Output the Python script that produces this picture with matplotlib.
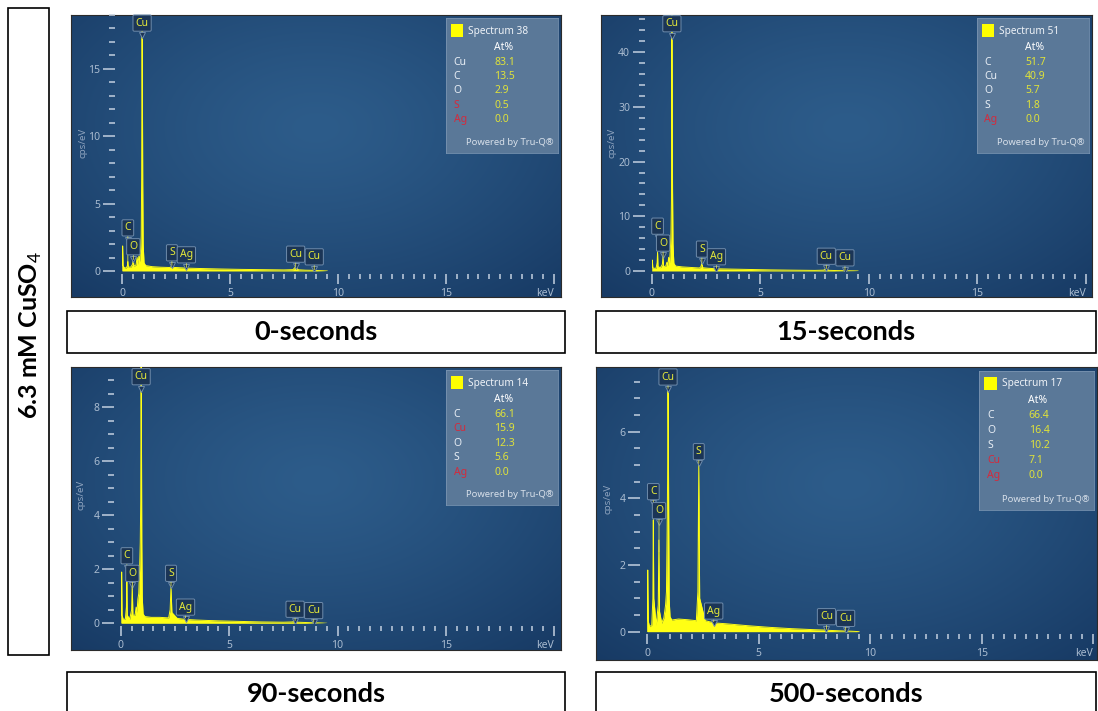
import matplotlib
matplotlib.use('Agg')

import matplotlib.pyplot as plt
import matplotlib.transforms as mtransforms
import numpy as np
from matplotlib.patches import Rectangle
from matplotlib.ticker import MultipleLocator

plt.rcParams['font.family'] = ['Noto Sans', 'DejaVu Sans']
plt.rcParams['mathtext.fontset'] = 'custom'
plt.rcParams['mathtext.rm'] = 'Lato'
plt.rcParams['mathtext.bf'] = 'Lato:bold'

# ---------------------------------------------------------------------------
# values
# ---------------------------------------------------------------------------
row_label = '6.3 mM CuSO$_4$'
titles = ['0-seconds', '15-seconds', '90-seconds', '500-seconds']
spec_names = ['Spectrum 38', 'Spectrum 51', 'Spectrum 14', 'Spectrum 17']

# energy grid (keV) the counts were read at
kev = [0.00, 0.02, 0.03, 0.05, 0.10, 0.20, 0.25, 0.27, 0.29, 0.40,
       0.49, 0.52, 0.55, 0.65, 0.70, 0.74, 0.78, 0.82, 0.86, 0.89,
       0.91, 0.93, 0.945, 0.96, 0.98, 1.02, 1.10, 1.40, 1.80, 2.20,
       2.27, 2.31, 2.35, 2.60, 2.90, 2.98, 3.06, 3.50, 4.50, 5.50,
       6.50, 7.50, 7.92, 8.04, 8.16, 8.50, 8.85, 8.90, 8.95, 9.30, 9.50]

# counts (cps/eV)
counts_38 = [0.0, 1.1, 1.86, 0.4, 0.25, 0.22, 0.4, 0.7, 0.3, 0.28,
             0.5, 0.95, 0.35, 0.45, 1.0, 0.5, 1.1, 0.7, 1.6, 2.6,
             7.0, 20.5, 13.6, 6.5, 2.0, 0.6, 0.4, 0.32, 0.28, 0.26,
             0.3, 0.42, 0.27, 0.25, 0.22, 0.26, 0.21, 0.19, 0.15, 0.12,
             0.1, 0.08, 0.1, 0.32, 0.09, 0.06, 0.05, 0.08, 0.04, 0.02, 0.0]
counts_51 = [0.0, 1.2, 2.0, 0.6, 0.5, 0.5, 1.5, 3.4, 0.8, 0.6,
             1.2, 2.6, 0.8, 0.9, 1.6, 1.0, 2.5, 1.5, 4.0, 7.0,
             13.0, 49.0, 35.0, 15.0, 5.0, 1.4, 0.9, 0.75, 0.65, 0.55,
             0.8, 1.55, 0.6, 0.5, 0.42, 0.5, 0.4, 0.36, 0.28, 0.2,
             0.15, 0.11, 0.15, 0.45, 0.12, 0.08, 0.06, 0.1, 0.05, 0.03, 0.0]
counts_14 = [0.0, 1.0, 1.9, 0.3, 0.15, 0.15, 0.6, 1.7, 0.3, 0.15,
             0.5, 1.42, 0.3, 0.3, 0.6, 0.4, 0.9, 1.1, 2.0, 3.0,
             4.5, 10.0, 7.0, 3.0, 1.0, 0.35, 0.25, 0.22, 0.22, 0.2,
             0.5, 1.38, 0.4, 0.18, 0.15, 0.2, 0.14, 0.12, 0.09, 0.07,
             0.05, 0.04, 0.05, 0.1, 0.04, 0.03, 0.02, 0.04, 0.02, 0.01, 0.0]
counts_17 = [0.0, 1.85, 1.2, 0.3, 0.15, 0.2, 1.0, 3.35, 1.0, 0.2,
             0.8, 2.75, 0.6, 0.25, 0.35, 0.4, 0.6, 0.8, 1.2, 3.0,
             4.5, 7.3, 6.0, 3.5, 1.0, 0.45, 0.35, 0.38, 0.36, 0.33,
             1.2, 5.05, 1.0, 0.33, 0.28, 0.3, 0.26, 0.24, 0.18, 0.13,
             0.09, 0.06, 0.05, 0.07, 0.04, 0.03, 0.02, 0.03, 0.02, 0.01, 0.0]

# quantification tables (At%), elements flagged red by the software
elems_38 = ['Cu', 'C', 'O', 'S', 'Ag']
atpct_38 = [83.1, 13.5, 2.9, 0.5, 0.0]
red_38 = ['S', 'Ag']
elems_51 = ['C', 'Cu', 'O', 'S', 'Ag']
atpct_51 = [51.7, 40.9, 5.7, 1.8, 0.0]
red_51 = ['Ag']
elems_14 = ['C', 'Cu', 'O', 'S', 'Ag']
atpct_14 = [66.1, 15.9, 12.3, 5.6, 0.0]
red_14 = ['Cu', 'Ag']
elems_17 = ['C', 'O', 'S', 'Cu', 'Ag']
atpct_17 = [66.4, 16.4, 10.2, 7.1, 0.0]
red_17 = ['Cu', 'Ag']

# peak tags: element and line energy (keV), same set on every spectrum
tag_elems = ['Cu', 'C', 'O', 'S', 'Ag', 'Cu', 'Cu']
tag_kev = [0.93, 0.27, 0.525, 2.31, 2.98, 8.04, 8.90]
# heights at which the tags sit (cps/eV)
tag_h_38 = [18.4, 3.2, 1.8, 1.35, 1.2, 1.25, 1.05]
tag_h_51 = [45.2, 8.2, 5.1, 4.0, 2.6, 2.7, 2.4]
tag_h_14 = [9.13, 2.5, 1.85, 1.85, 0.6, 0.52, 0.47]
tag_h_17 = [7.64, 4.2, 3.63, 5.4, 0.62, 0.45, 0.40]

# y axis range and tick steps for each spectrum
y_top = [19.0, 46.8, 9.49, 7.94]
y_step = [5, 10, 2, 2]
y_minor = [1, 2, 0.5, 0.5]

# ---------------------------------------------------------------------------
# layout (pixels, left, top, right, bottom)
# ---------------------------------------------------------------------------
W, H = 1098, 711
panel_px = [(71, 15, 561, 297), (601, 15, 1092, 297),
            (71, 367, 561, 650), (596, 367, 1097, 660)]
plot_px = [(122, 15, 554, 271), (651.7, 15, 1086, 271),
           (121, 367, 554, 623.3), (647.3, 367, 1093, 631.7)]
title_px = [(67, 311, 565, 353), (596, 311, 1096, 353),
            (67, 672, 565, 715), (596, 672, 1096, 715)]

YEL = '#ffff14'
TICK_C = '#c3d0e0'
LAB_C = '#a9bbd0'
TAG_FC = '#1b3556'
TAG_EC = '#6e8bab'


def frac(l, t, r, b):
    return [l / W, 1 - b / H, (r - l) / W, (b - t) / H]


def gradient():
    gy, gx = np.mgrid[0:1:200j, 0:1:300j]
    d = np.clip(np.hypot((gx - 0.5) * 1.1, gy - 0.4) / 0.85, 0, 1)
    inner = np.array([45, 92, 138]) / 255
    outer = np.array([22, 56, 98]) / 255
    return inner + (outer - inner) * d[..., None] ** 1.3


GRAD = gradient()


def draw_panel(fig, i, counts, elems, atpct, red, tag_h):
    l, t, r, b = panel_px[i]
    bg = fig.add_axes(frac(l, t, r, b))
    bg.imshow(GRAD, extent=[0, 1, 0, 1], aspect='auto', interpolation='bilinear')
    bg.set_xticks([])
    bg.set_yticks([])
    for s in bg.spines.values():
        s.set_color('#2b2b2b')
        s.set_linewidth(0.8)

    pl, pt, pr, pb = plot_px[i]
    ax = fig.add_axes(frac(pl, pt, pr, pb))
    ax.patch.set_alpha(0)
    ax.set_xlim(0, 20)
    ax.set_ylim(0, y_top[i])
    ax.fill_between(kev, counts, color=YEL, lw=0, zorder=2)
    ax.plot(kev, counts, color=YEL, lw=0.7, zorder=2)

    for s in ax.spines.values():
        s.set_visible(False)
    ax.spines['left'].set_position(('outward', 5))
    ax.spines['bottom'].set_position(('outward', 2))

    ax.set_xticks([0, 5, 10, 15, 20], labels=['0', '5', '10', '15', 'keV'])
    ax.get_xticklabels()[-1].set_horizontalalignment('right')
    ax.xaxis.set_minor_locator(MultipleLocator(0.5))
    ax.set_yticks(np.arange(0, y_top[i], y_step[i]))
    ax.yaxis.set_minor_locator(MultipleLocator(y_minor[i]))
    ax.tick_params(axis='x', which='major', length=7, width=1.1, color=TICK_C,
                   labelsize=7.5, labelcolor=LAB_C, pad=3)
    ax.tick_params(axis='x', which='minor', length=3.5, width=1.1, color=TICK_C)
    ax.tick_params(axis='y', which='major', length=9, width=1.1, color=TICK_C,
                   labelsize=7.5, labelcolor=LAB_C, pad=1.5)
    ax.tick_params(axis='y', which='minor', length=4, width=1.1, color=TICK_C)
    ax.set_ylabel('cps/eV', color='#8ea3be', fontsize=7)
    ax.yaxis.set_label_coords(-35 / (pr - pl), 0.5)

    # peak tags: box with a small pointer and a leader down to the peak
    below = mtransforms.offset_copy(ax.transData, fig=fig, y=-8.5, units='points')
    for name, e, h in zip(tag_elems, tag_kev, tag_h):
        peak = np.interp(e, kev, counts)
        kw = {}
        if peak < h:
            kw['arrowprops'] = dict(arrowstyle='-', color='#d6da55', lw=0.6,
                                    shrinkA=0, shrinkB=0)
        ann = ax.annotate(name, xy=(e, min(peak, h)), xytext=(e, h),
                          ha='center', va='center', fontsize=7.5, color='#e6ea3a',
                          bbox=dict(boxstyle='round,pad=0.25,rounding_size=0.12',
                                    fc=TAG_FC, ec=TAG_EC, lw=0.7),
                          zorder=4, **kw)
        ann.set_clip_on(True)
        ax.plot([e], [h], marker='v', ms=4.5, mfc=TAG_FC, mec=TAG_EC, mew=0.7,
                transform=below, zorder=3.9, clip_on=True)

    # quantification box
    lw_, lh_ = r - l, b - t
    lg = fig.add_axes(frac(l + 0.765 * lw_, t + 0.012 * lh_,
                           l + 0.994 * lw_, t + 0.488 * lh_))
    lg.set_xlim(0, 112)
    lg.set_ylim(135, 0)
    lg.set_xticks([])
    lg.set_yticks([])
    lg.set_facecolor('#5a7898')
    for s in lg.spines.values():
        s.set_color('#7893b0')
        s.set_linewidth(0.6)
    lg.add_patch(Rectangle((5, 6), 12.5, 12.5, fc='#ffff00', ec='none'))
    lg.text(22, 12.7, spec_names[i], fontsize=7.3, color='#eef2f7', va='center')
    lg.text(48, 29, 'At%', fontsize=7.5, color='white', va='center', fontweight='bold')
    for k, (el, v) in enumerate(zip(elems, atpct)):
        y = 44 + 14.5 * k
        lg.text(7.7, y, el, fontsize=7.5, va='center',
                color='#d42a3c' if el in red else '#e8eef5')
        lg.text(48.3, y, f'{v:.1f}', fontsize=7.5, va='center', color='#dfe23a')
    lg.text(107.5, 124.5, 'Powered by Tru-Q®', fontsize=6.8, ha='right',
            va='center', color='#d8e0ea')


fig = plt.figure(figsize=(W / 100, H / 100), dpi=100)

over = fig.add_axes([0, 0, 1, 1])
over.set_xlim(0, W)
over.set_ylim(H, 0)
over.axis('off')
over.add_patch(Rectangle((8, 8), 41, 647, fc='white', ec='black', lw=1.2))
over.text(31, 335, row_label, rotation=90, ha='center', va='center',
          fontsize=18, fontweight='bold', family='Lato')
for (l, t, r, b), title in zip(title_px, titles):
    over.add_patch(Rectangle((l, t), r - l, b - t, fc='white', ec='black', lw=1.2))
    over.text((l + r) / 2, (t + b) / 2, title, ha='center', va='center',
              fontsize=19.5, fontweight='bold', family='Lato')

all_counts = [counts_38, counts_51, counts_14, counts_17]
all_elems = [elems_38, elems_51, elems_14, elems_17]
all_at = [atpct_38, atpct_51, atpct_14, atpct_17]
all_red = [red_38, red_51, red_14, red_17]
all_tags = [tag_h_38, tag_h_51, tag_h_14, tag_h_17]
for i in range(4):
    draw_panel(fig, i, all_counts[i], all_elems[i], all_at[i], all_red[i], all_tags[i])

fig.savefig('out.png', dpi=100, facecolor='white')
